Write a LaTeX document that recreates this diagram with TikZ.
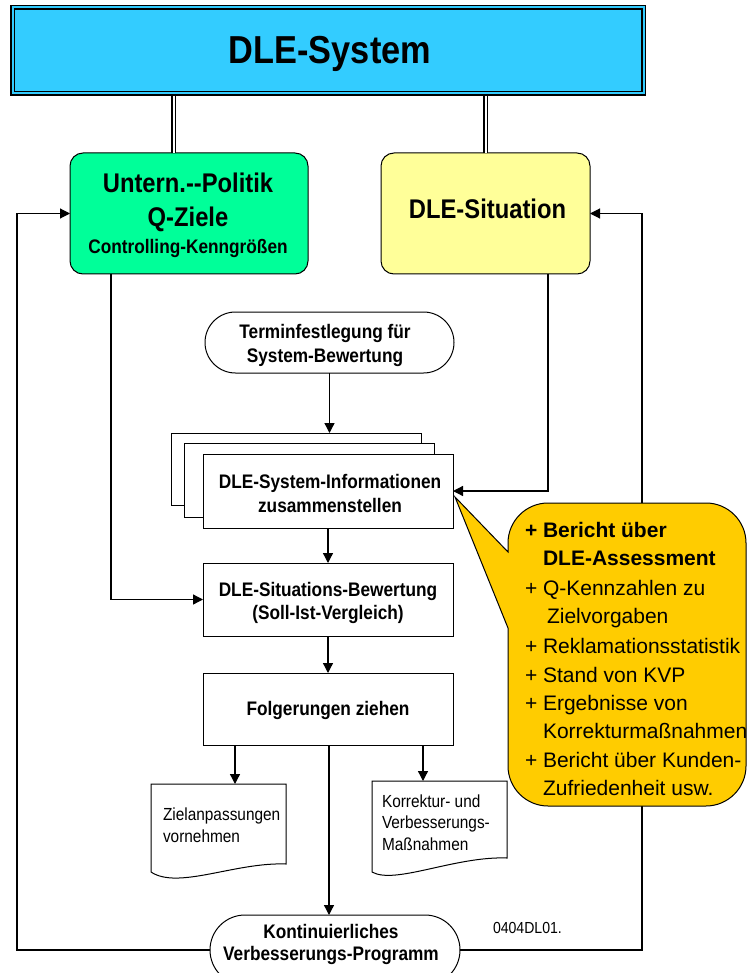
\documentclass[tikz,border=0pt]{standalone}
\usepackage{fontspec}
\setmainfont{Liberation Sans}
\newfontfamily\narrowsans[FakeStretch=0.88]{Liberation Sans}
\usetikzlibrary{arrows.meta,shapes.misc,calc}
\definecolor{syscyan}{HTML}{33CCFF}
\definecolor{polgreen}{HTML}{00FF99}
\definecolor{sityellow}{HTML}{FFFF99}
\definecolor{notegold}{HTML}{FFCC00}
\tikzset{
  every node/.style={inner sep=0pt, outer sep=0pt},
  box/.style={draw, line width=1pt, fill=white, rectangle, minimum width=250pt},
  term/.style={draw, line width=1pt, fill=white, rounded rectangle},
  link/.style={line width=1.3pt, -{Triangle[length=10pt,width=10pt]}},
  fback/.style={line width=1.1pt, -{Triangle[length=10pt,width=10pt]}},
  dbl/.style={draw, line width=1.4pt, double=white, double distance=2pt},
  bt/.style={anchor=base, font=\narrowsans\bfseries\fontsize{19.6}{23}\selectfont},
  big/.style={anchor=base, font=\narrowsans\bfseries\fontsize{27}{31}\selectfont},
  rt/.style={anchor=base west, font=\narrowsans\fontsize{17.5}{21}\selectfont},
  nt/.style={anchor=base west, font=\fontsize{21}{25}\selectfont},
  ntb/.style={anchor=base west, font=\bfseries\fontsize{21}{25}\selectfont},
  docline/.style={draw, line width=1pt, fill=white},
}
\newcommand{\plusmark}{\makebox[18pt][l]{+}}
\begin{document}
\begin{tikzpicture}[x=1pt,y=-1pt]
\fill[white] (0,0) rectangle (747,973);
\useasboundingbox (0,0) rectangle (747,973);

% helper columns for the vertical connector runs
\coordinate (dl) at (173.5,0);
\coordinate (dr) at (485.5,0);
\coordinate (lx) at (17,0);
\coordinate (rx) at (642,0);
\coordinate (px) at (111,0);
\coordinate (sx) at (548,0);

% header box
\node[draw=black, line width=1.6pt, double=syscyan, double distance=2pt,
      fill=syscyan, minimum width=631pt, minimum height=86pt] (sys) at (328,50.5) {};
\node[anchor=base, font=\narrowsans\bfseries\fontsize{39}{44}\selectfont] (systxt) at (330,64) {DLE-System};

% policy and situation boxes
\node[draw, line width=1pt, fill=polgreen, rounded corners=13pt,
      minimum width=238pt, minimum height=121pt] (pol) at (189,213.5) {};
\node[big] (polA) at (188,193) {Untern.-{}-Politik};
\node[big] (polB) at (188,227) {Q-Ziele};
\node[bt]  (polC) at (188,254) {Controlling-Kenngrößen};

\node[draw, line width=1pt, fill=sityellow, rounded corners=13pt,
      minimum width=209pt, minimum height=121pt] (sit) at (485.5,213.5) {};
\node[big] (sitA) at (487.5,219) {DLE-Situation};

% double connectors from the header
\draw[dbl] ($(sys.south -| dl)+(0,2.6)$) -- (pol.north -| dl);
\draw[dbl] ($(sys.south -| dr)+(0,2.6)$) -- (sit.north -| dr);

% scheduling terminal
\node[term, minimum width=249pt, minimum height=61pt] (plan) at (329.5,342.5) {};
\node[bt] (planA) at (325,338) {Terminfestlegung für};
\node[bt] (planB) at (325,362) {System-Bewertung};

% stacked information sheets
\node[box, minimum height=72pt] (st1) at (296,469) {};
\node[box, minimum height=74pt] (st2) at (309,480) {};
\node[box, minimum height=74pt] (info) at (328,491) {};
\node[bt] (infoA) at (330,488) {DLE-System-Informationen};
\node[bt] (infoB) at (330,512) {zusammenstellen};

% evaluation
\node[box, minimum height=73pt] (bew) at (328,599.5) {};
\node[bt] (bewA) at (328,596) {DLE-Situations-Bewertung};
\node[bt] (bewB) at (328,619) {(Soll-Ist-Vergleich)};

% conclusions
\node[box, minimum height=72pt] (folg) at (328,709) {};
\node[bt] (folgA) at (328,715) {Folgerungen ziehen};

% document shapes
\node[minimum width=135pt, minimum height=80pt] (ldoc) at (218.5,824) {};
\draw[docline] (ldoc.north west) -- (ldoc.north east) -- (286,864)
  .. controls (235,862) and (178,890) .. (151,872) -- cycle;
\node[rt] (ldA) at (163,820) {Zielanpassungen};
\node[rt] (ldB) at (163,842) {vornehmen};

\node[minimum width=135pt, minimum height=77pt] (rdoc) at (439.5,819.5) {};
\draw[docline] (rdoc.north west) -- (rdoc.north east) -- (507,858)
  .. controls (455,856) and (395,885) .. (372,872) -- cycle;
\node[rt] (rdA) at (382,807) {Korrektur- und};
\node[rt] (rdB) at (382,828) {Verbesserungs-};
\node[rt] (rdC) at (382,850) {Maßnahmen};

% improvement programme terminal
\node[term, minimum width=250pt, minimum height=70pt] (kvp) at (335,950) {};
\node[bt] (kvpA) at (331,938) {Kontinuierliches};
\node[bt] (kvpB) at (331,960) {Verbesserungs-Programm};

\node[anchor=base west, font=\narrowsans\fontsize{16}{19}\selectfont] (code) at (493,933) {0404DL01.};

% main flow
\draw[link] (plan.south) -- (plan.south |- st1.north);
\draw[link] (info.south) -- (bew.north);
\draw[link] (bew.south) -- (folg.north);
\draw[link] ([xshift=-93pt]folg.south) -- ([xshift=-93pt]folg.south |- ldoc.north);
\draw[link] ([xshift=1pt]folg.south) -- ([xshift=1pt]folg.south |- kvp.north);
\draw[link] ([xshift=95pt]folg.south) -- ([xshift=95pt]folg.south |- rdoc.north);

% side inputs
\draw[link] (pol.south -| px) |- (bew.west);
\draw[link] (sit.south -| sx) |- (info.east);

% feedback loops
\draw[fback] (kvp.west) -- (kvp.west -| lx) -- (lx |- pol.west) -- (pol.west);
\draw[fback] (kvp.east) -- (kvp.east -| rx) -- (rx |- sit.east) -- (sit.east);

% callout with the information list
\coordinate (tip) at ($(info.east)+(2,6)$);
\draw[line width=1pt, fill=notegold] (tip) -- (508,552) -- (508,543)
  .. controls (508,521) and (526,503) .. (548,503) -- (706,503)
  .. controls (728,503) and (746,521) .. (746,543) -- (746,766)
  .. controls (746,788) and (728,806) .. (706,806) -- (548,806)
  .. controls (526,806) and (508,788) .. (508,766) -- (508,628) -- cycle;
\node[ntb] (n1)  at (525,537) {\plusmark Bericht über};
\node[ntb] (n2)  at (543,565) {DLE-Assessment};
\node[nt]  (n3)  at (525,595) {\plusmark Q-Kennzahlen zu};
\node[nt]  (n4)  at (547,623) {Zielvorgaben};
\node[nt]  (n5)  at (525,653) {\plusmark Reklamationsstatistik};
\node[nt]  (n6)  at (525,682) {\plusmark Stand von KVP};
\node[nt]  (n7)  at (525,710) {\plusmark Ergebnisse von};
\node[nt]  (n8)  at (543,738) {Korrekturmaßnahmen};
\node[nt]  (n9)  at (525,767) {\plusmark Bericht über Kunden-};
\node[nt]  (n10) at (543,795) {Zufriedenheit usw.};
\end{tikzpicture}
\end{document}
